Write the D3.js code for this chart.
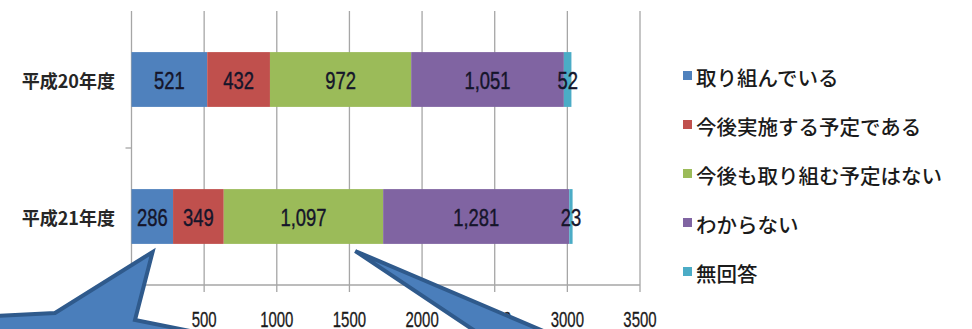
<!DOCTYPE html>
<html><head><meta charset="utf-8">
<script src="https://cdn.jsdelivr.net/npm/d3@7/dist/d3.min.js"></script>
<style>
html,body{margin:0;padding:0;background:#fff;}
svg{display:block;}
</style></head>
<body>
<svg id="c" width="972" height="329"></svg>
<script>
const categories = ["平成20年度", "平成21年度"];
const seriesNames = ["取り組んでいる", "今後実施する予定である", "今後も取り組む予定はない", "わからない", "無回答"];
const seriesColors = ["#4f81bd", "#c0504d", "#9bbb59", "#8064a2", "#4bacc6"];
const s1 = [521, 286];
const s2 = [432, 349];
const s3 = [972, 1097];
const s4 = [1051, 1281];
const s5 = [52, 23];
const tickValues = [0, 500, 1000, 1500, 2000, 2500, 3000, 3500];

(function () {
const series = [s1, s2, s3, s4, s5];
const rows = categories.map((c, i) => {
  const r = {cat: c};
  seriesNames.forEach((n, k) => r[n] = series[k][i]);
  return r;
});
const stacked = d3.stack().keys(seriesNames)(rows);

const svg = d3.select("#c");
const pL = 131.5, pR = 640, pT = 11, pB = 285;
const x = d3.scaleLinear().domain([0, 3500]).range([pL, pR]);
const y = d3.scaleBand().domain(categories).range([pT, pB]).paddingInner(0.6).paddingOuter(0.3);
const yb = d3.scaleBand().domain(categories).range([pT, pB]);
const numFont = "'Liberation Sans','Arial',sans-serif";

// gridlines
svg.append("g").selectAll("line").data(tickValues.filter(v => v > 0)).join("line")
  .attr("x1", d => x(d)).attr("x2", d => x(d))
  .attr("y1", pT).attr("y2", pB + 7)
  .attr("stroke", "#a6a6a6").attr("stroke-width", 1.3);

svg.append("line").attr("x1", pL).attr("x2", pR).attr("y1", pB).attr("y2", pB)
  .attr("stroke", "#a6a6a6").attr("stroke-width", 1.3);
svg.append("line").attr("x1", pL).attr("x2", pL).attr("y1", pT).attr("y2", pB)
  .attr("stroke", "#a6a6a6").attr("stroke-width", 1.3);
const bounds = [yb.range()[0] + yb.step()];
svg.append("g").selectAll("line").data(bounds).join("line")
  .attr("x1", pL - 6).attr("x2", pL).attr("y1", d => d).attr("y2", d => d)
  .attr("stroke", "#a6a6a6").attr("stroke-width", 1.3);

// bars
const g = svg.append("g");
stacked.forEach((layer, k) => {
  g.append("g").selectAll("rect").data(layer).join("rect")
    .attr("x", d => x(d[0])).attr("width", d => x(d[1]) - x(d[0]))
    .attr("y", d => y(d.data.cat)).attr("height", y.bandwidth())
    .attr("fill", seriesColors[k]);
});
stacked.forEach((layer, k) => {
  g.append("g").selectAll("text").data(layer).join("text")
    .attr("transform", d => `translate(${(x(d[0]) + x(d[1])) / 2},${y(d.data.cat) + y.bandwidth() / 2 + 1}) scale(0.8,1)`)
    .attr("text-anchor", "middle").attr("dominant-baseline", "central")
    .attr("font-family", numFont)
    .attr("font-size", 23).attr("fill", "#15152a")
    .attr("stroke", "#15152a").attr("stroke-width", 0.4)
    .text(d => d3.format(",")(d[1] - d[0]));
});

// category labels
svg.append("g").selectAll("text").data(categories).join("text")
  .attr("x", 115).attr("y", d => y(d) + y.bandwidth() / 2)
  .attr("text-anchor", "end").attr("dominant-baseline", "central")
  .attr("font-family", "'Noto Sans CJK JP',sans-serif").attr("font-size", 18)
  .attr("font-weight", 700).attr("fill", "#262626")
  .text(d => d);

// x tick labels
svg.append("g").selectAll("text").data(tickValues).join("text")
  .attr("transform", d => `translate(${x(d)},327) scale(0.68,1)`)
  .attr("text-anchor", "middle")
  .attr("font-family", numFont)
  .attr("font-size", 22).attr("fill", "#1a1a1a")
  .attr("stroke", "#1a1a1a").attr("stroke-width", 0.3)
  .text(d => d);

// legend
const lg = svg.append("g");
seriesNames.forEach((n, k) => {
  const cy = 77 + k * 49;
  lg.append("rect").attr("x", 683).attr("y", cy - 6).attr("width", 9).attr("height", 9).attr("fill", seriesColors[k]);
  lg.append("text").attr("x", 696).attr("y", cy).attr("dominant-baseline", "central")
    .attr("font-family", "'Noto Sans CJK JP',sans-serif").attr("font-size", 20.5)
    .attr("font-weight", 500).attr("fill", "#1a1a1a").text(n);
});

// callout pointers (annotations)
const c1 = [[-5, 316], [55, 313], [x(145), 252], [135, 320], [200, 333], [-5, 333]];
const c2 = [[x(1540), 251], [548, 333], [478, 333]];
[c1, c2].forEach(p => {
  svg.append("path").attr("d", d3.line()(p) + "Z")
    .attr("fill", "#4a7ebb").attr("stroke", "#2f5a8c").attr("stroke-width", 4)
    .attr("stroke-linejoin", "miter");
});
})();
</script>
</body></html>
